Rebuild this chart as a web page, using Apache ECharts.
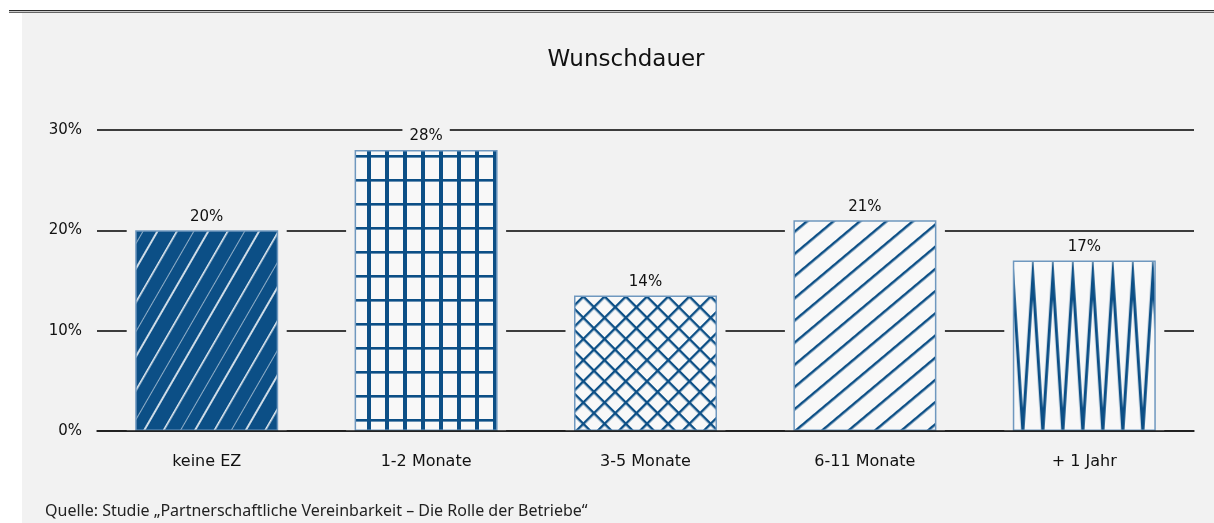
<!DOCTYPE html>
<html><head><meta charset="utf-8">
<script src="https://cdn.jsdelivr.net/npm/echarts@6/dist/echarts.min.js"></script>
<style>html,body{margin:0;padding:0;background:#fff;}#c{width:1214px;height:523px;}</style>
</head><body><div id="c"></div>
<script>
const categories = ['keine EZ', '1-2 Monate', '3-5 Monate', '6-11 Monate', '+ 1 Jahr'];
const values = [20, 28, 13.5, 21, 17];
const yTicks = { min: 0, max: 30, interval: 10 };
const titleText = 'Wunschdauer';
const sourceText = 'Quelle: Studie \u201EPartnerschaftliche Vereinbarkeit \u2013 Die Rolle der Betriebe\u201C';

const BLUE = '#0c4f86';
const BG = '#f2f2f2';
const BARBG = '#f8f8f8';
const HAND = "'DejaVu Sans', sans-serif";
const BAR_W = 143;
const GAP = 8.5;

function tile(w, h, draw) {
  const c = document.createElement('canvas');
  c.width = w; c.height = h;
  const g = c.getContext('2d');
  draw(g, w, h);
  return c;
}
function pat1() {
  return { image: tile(44, 44, (g, w, h) => {
    g.fillStyle = BLUE; g.fillRect(0, 0, w, h);
    g.fillStyle = 'rgba(255,255,255,0.9)';
    g.fillRect(4, 0, 1.6, h);
    g.fillStyle = 'rgba(255,255,255,0.55)';
    g.fillRect(19, 0, 1.0, h);
    g.fillStyle = 'rgba(255,255,255,0.8)';
    g.fillRect(31, 0, 2.0, h);
  }), repeat: 'repeat', rotation: Math.PI / 6 };
}
function pat2() {
  return { image: tile(18, 24, (g, w, h) => {
    g.fillStyle = BARBG; g.fillRect(0, 0, w, h);
    g.fillStyle = BLUE;
    g.fillRect(7, 0, 4, h);
    g.fillRect(0, 11, w, 2.6);
  }), repeat: 'repeat' };
}
function pat3() {
  return { image: tile(15, 15, (g, w, h) => {
    g.fillStyle = BARBG; g.fillRect(0, 0, w, h);
    g.fillStyle = BLUE;
    g.fillRect(6, 0, 2.4, h);
    g.fillRect(0, 6, w, 2.4);
  }), repeat: 'repeat', rotation: Math.PI / 4 };
}
function pat4() {
  return { image: tile(17, 10, (g, w, h) => {
    g.fillStyle = BARBG; g.fillRect(0, 0, w, h);
    g.fillStyle = BLUE;
    g.fillRect(7, 0, 2.5, h);
  }), repeat: 'repeat', rotation: Math.PI * 50 / 180 };
}
function pat5(H, x0, y0) {
  const W = 20;
  return { image: tile(W, Math.max(2, Math.round(H)), (g, w, h) => {
    g.fillStyle = BARBG; g.fillRect(0, 0, w, h);
    g.strokeStyle = BLUE; g.lineWidth = 3;
    g.beginPath();
    g.moveTo(-1, 0); g.lineTo(w / 2, h); g.lineTo(w + 1, 0);
    g.stroke();
  }), repeat: 'repeat', x: x0, y: y0 };
}

const chart = echarts.init(document.getElementById('c'), null, { renderer: 'canvas' });

function mainData(p5) {
  const pats = [pat1(), pat2(), pat3(), pat4(), p5 || BARBG];
  return values.map((v, i) => ({ value: v, itemStyle: { color: pats[i] } }));
}

function renderMask(params, api) {
  const top = api.coord([api.value(0), api.value(1)]);
  const base = api.coord([api.value(0), 0]);
  return {
    type: 'rect',
    shape: { x: top[0] - BAR_W / 2 - GAP, y: top[1] - GAP, width: BAR_W + 2 * GAP, height: base[1] - top[1] + GAP },
    style: { fill: BG }
  };
}

const option = {
  animation: false,
  backgroundColor: '#ffffff',
  grid: { left: 97, right: 20, top: 130, bottom: 92 },
  graphic: [
    { type: 'rect', z: -100, shape: { x: 22, y: 13, width: 1192, height: 510 }, style: { fill: BG }, silent: true },
    { type: 'rect', z: -100, shape: { x: 9, y: 10, width: 1205, height: 1.3 }, style: { fill: '#2a2a2a' }, silent: true },
    { type: 'rect', z: -100, shape: { x: 9, y: 12, width: 1205, height: 1 }, style: { fill: '#666' }, silent: true },
    { type: 'text', z: 10, x: 626, y: 60, style: { text: titleText, fill: '#111', font: "23px " + HAND, textAlign: 'center', textVerticalAlign: 'middle' } },
    { type: 'text', z: 10, x: 45, y: 511, style: { text: sourceText, fill: '#222', font: "16px 'Noto Sans', sans-serif", textAlign: 'left', textVerticalAlign: 'middle' } }
  ],
  xAxis: {
    type: 'category', data: categories, z: 10,
    axisLine: { lineStyle: { color: '#1a1a1a', width: 1.6 } },
    axisTick: { show: false },
    axisLabel: { margin: 23, fontSize: 16, color: '#111', fontFamily: HAND }
  },
  yAxis: {
    type: 'value', min: yTicks.min, max: yTicks.max, interval: yTicks.interval,
    axisLine: { show: false }, axisTick: { show: false },
    axisLabel: { formatter: '{value}%', margin: 15, fontSize: 15, color: '#111', fontFamily: HAND },
    splitLine: { lineStyle: { color: '#000', width: 1.5 } }
  },
  series: [
    { id: 'mask', type: 'custom', data: values.map((v, i) => [i, v]), renderItem: renderMask, silent: true, z: 1,
      encode: { x: 0, y: 1 } },
    { id: 'main', type: 'bar', data: mainData(null), barWidth: BAR_W, z: 3,
      itemStyle: { borderColor: '#6f98bf', borderWidth: 1.5 },
      label: { show: true, position: 'top', distance: 4, formatter: p => Math.round(p.value) + '%',
        fontSize: 15, color: '#111', fontFamily: HAND, backgroundColor: BG, padding: [2, 7] } }
  ]
};
chart.setOption(option);

const topPt = chart.convertToPixel({ xAxisIndex: 0, yAxisIndex: 0 }, [4, values[4]]);
const basePt = chart.convertToPixel({ xAxisIndex: 0, yAxisIndex: 0 }, [4, 0]);
const p5 = pat5(basePt[1] - topPt[1], topPt[0] - BAR_W / 2, topPt[1]);
chart.setOption({ series: [{ id: 'mask' }, { id: 'main', data: mainData(p5) }] });
</script></body></html>
